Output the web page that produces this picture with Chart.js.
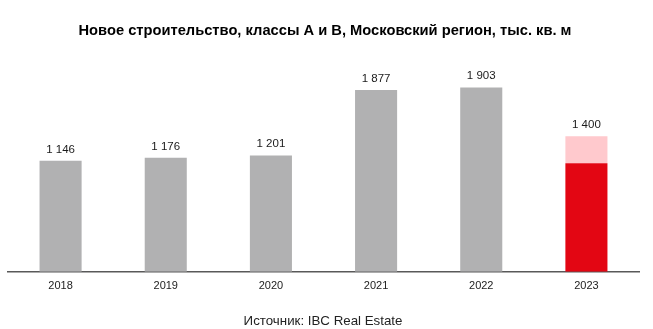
<!DOCTYPE html>
<html><head><meta charset="utf-8">
<script src="https://cdn.jsdelivr.net/npm/chart.js@4"></script>
<style>html,body{margin:0;padding:0;background:#fff}#w{width:653px;height:329px;position:relative}</style>
</head><body><div id="w"><canvas id="c" width="653" height="329"></canvas></div>
<script>
const categories = ["2018","2019","2020","2021","2022","2023"];
const mainValues = [1146, 1176, 1201, 1877, 1903, 1120];
const extraValues = [null, null, null, null, null, 280];
const totalLabels = ["1 146","1 176","1 201","1 877","1 903","1 400"];
const titleText = "Новое строительство, классы А и В, Московский регион, тыс. кв. м";
const sourceText = "Источник: IBC Real Estate";

const GRAY = "#b1b1b2", RED = "#e30613", PINK = "#ffc9cd";

const labelPlugin = {
  id: "labels",
  afterDatasetsDraw(chart) {
    const ctx = chart.ctx;
    ctx.save();
    ctx.font = "11.5px 'Liberation Sans', Arial, sans-serif";
    ctx.fillStyle = "#1a1a1a";
    ctx.textAlign = "center";
    ctx.textBaseline = "alphabetic";
    categories.forEach((c, i) => {
      let top = Infinity, x = 0;
      chart.data.datasets.forEach((ds, di) => {
        const el = chart.getDatasetMeta(di).data[i];
        if (el && ds.data[i] != null) { top = Math.min(top, el.y); x = el.x; }
      });
      ctx.fillText(totalLabels[i], x, top - 8);
    });
    ctx.restore();
  },
  afterDraw(chart) {
    const ctx = chart.ctx;
    ctx.save();
    ctx.textAlign = "center";
    ctx.textBaseline = "middle";
    ctx.fillStyle = "#000";
    ctx.font = "bold 14.7px 'Liberation Sans', Arial, sans-serif";
    ctx.fillText(titleText, 325, 31);
    ctx.fillStyle = "#222";
    ctx.font = "13.3px 'Liberation Sans', Arial, sans-serif";
    ctx.fillText(sourceText, 323, 321);
    ctx.restore();
  }
};

new Chart(document.getElementById("c"), {
  type: "bar",
  data: {
    labels: categories,
    datasets: [
      { data: mainValues, backgroundColor: mainValues.map((v, i) => i === 5 ? RED : GRAY), stack: "s", barPercentage: 0.4, categoryPercentage: 1 },
      { data: extraValues, backgroundColor: PINK, stack: "s", barPercentage: 0.4, categoryPercentage: 1 }
    ]
  },
  options: {
    responsive: false,
    animation: false,
    layout: { padding: { top: 78, left: 8, right: 14, bottom: 28 } },
    plugins: { legend: { display: false }, tooltip: { enabled: false }, title: { display: false } },
    scales: {
      x: {
        stacked: true,
        grid: { display: false, drawTicks: false },
        border: { display: true, color: "#595959", width: 1.5 },
        ticks: { color: "#222", font: { size: 11, family: "'Liberation Sans', Arial, sans-serif" }, padding: 8 }
      },
      y: { stacked: true, display: false, min: 0, max: 2000 }
    }
  },
  plugins: [labelPlugin]
});
</script></body></html>
